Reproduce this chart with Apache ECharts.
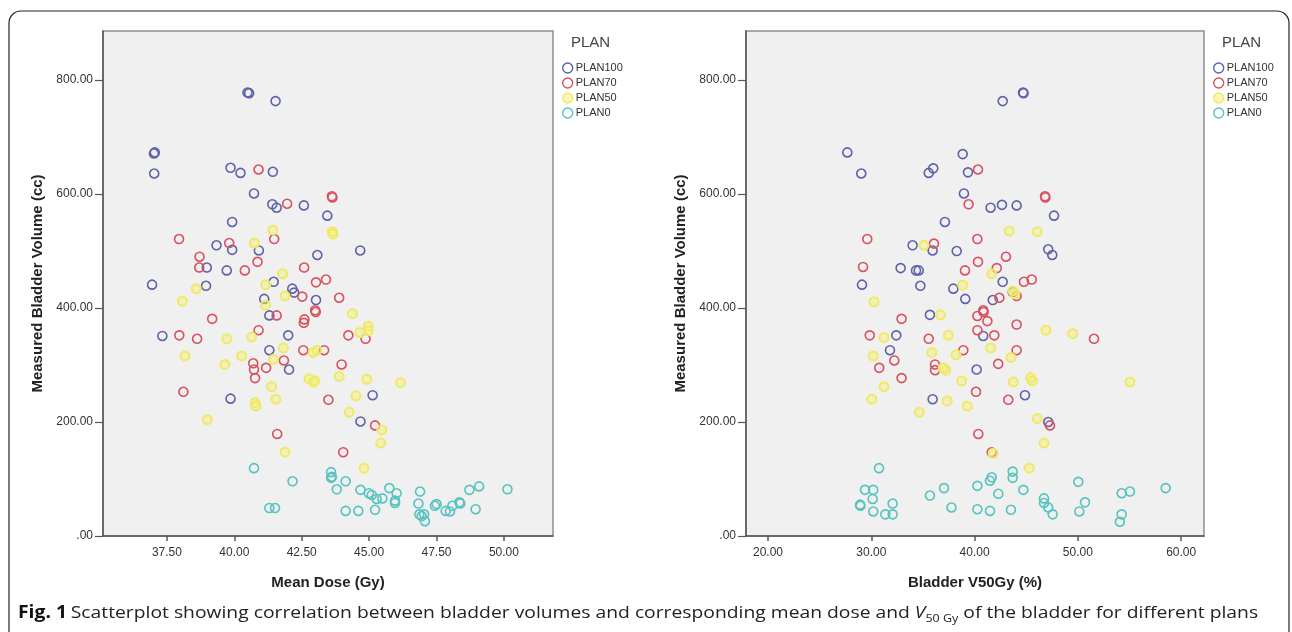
<!DOCTYPE html>
<html>
<head>
<meta charset="utf-8">
<script src="https://cdn.jsdelivr.net/npm/echarts@6/dist/echarts.min.js"></script>
<style>
html,body{margin:0;padding:0;background:#fff;}
#chart{width:1292px;height:632px;}
</style>
</head>
<body>
<div id="chart"></div>
<script>
// ---- Data ----
const planNames = ['PLAN100', 'PLAN70', 'PLAN50', 'PLAN0'];

const xTicksDose = [37.5, 40, 42.5, 45, 47.5, 50];
const xTicksV50 = [20, 30, 40, 50, 60];
const yTicks = [0, 200, 400, 600, 800];

// Left panel: [mean dose (Gy), measured bladder volume (cc)]
const dosePlan100 = [[40.49,778],[40.55,777],[41.53,763],[37.02,671],[37.05,673],[37.03,636],[39.86,646],[40.23,637],[41.43,639],[40.73,601],[41.41,582],[41.57,576],[42.58,580],[39.92,551],[39.34,510],[39.92,502],[40.91,501],[38.98,471],[39.72,466],[36.95,441],[38.95,439],[41.46,446],[43.08,493],[42.15,434],[42.22,427],[43.03,414],[41.11,416],[41.30,387],[43.45,562],[44.67,501],[37.33,351],[42.0,352],[41.30,326],[42.03,292],[39.86,241],[45.13,247],[44.68,201]];
const dosePlan70 = [[40.90,643],[41.96,583],[43.62,596],[43.64,594],[37.95,521],[41.48,521],[39.81,514],[38.71,490],[38.70,471],[40.39,466],[40.86,481],[42.59,471],[42.52,420],[43.03,445],[43.40,450],[43.89,418],[43.0,396],[43.02,393],[39.18,381],[41.57,387],[42.58,374],[42.60,380],[37.96,352],[38.62,346],[40.90,361],[42.56,326],[40.70,303],[40.73,292],[40.77,277],[41.18,295],[41.84,308],[38.11,253],[41.59,179],[44.23,352],[44.87,346],[43.33,326],[43.98,301],[43.49,239],[45.22,194],[44.04,147]];
const dosePlan50 = [[41.43,537],[40.74,514],[38.59,434],[38.07,412],[41.16,441],[41.79,460],[41.88,421],[41.16,405],[43.63,534],[43.66,530],[44.38,390],[44.97,368],[39.72,346],[40.64,349],[41.82,330],[38.17,316],[39.65,301],[40.27,316],[41.38,262],[41.54,240],[40.77,234],[40.80,228],[42.77,276],[42.93,270],[39.0,204],[41.88,147],[44.97,360],[44.66,357],[42.93,322],[43.07,326],[43.89,280],[44.91,275],[46.17,269],[44.51,246],[44.26,217],[45.47,186],[45.43,163],[44.81,119],[42.99,272],[41.45,310]];
const dosePlan0 = [[40.73,119],[42.16,96],[41.30,49],[41.51,49],[43.59,112],[43.59,102],[43.62,104],[44.13,96],[43.80,82],[44.68,81],[44.99,75],[45.10,72],[45.28,65],[45.49,66],[45.75,84],[46.02,75],[45.96,62],[45.96,58],[44.13,44],[44.60,44],[45.22,46],[46.89,78],[46.83,57],[46.86,38],[47.04,38],[47.07,26],[47.44,53],[47.50,56],[47.84,44],[48.00,43],[48.09,53],[48.35,59],[48.38,57],[48.72,81],[49.08,87],[48.95,47],[50.13,82],[46.95,35]];

// Right panel: [bladder V50Gy (%), measured bladder volume (cc)]
const v50Plan100 = [[44.69,778],[44.74,777],[42.72,763],[27.68,673],[38.85,670],[29.03,636],[35.56,637],[36.0,645],[39.36,638],[38.97,601],[41.55,576],[42.65,581],[44.07,580],[47.69,562],[37.13,551],[34.0,510],[35.94,501],[38.27,500],[47.13,503],[47.52,493],[32.84,470],[34.33,466],[34.59,466],[29.10,441],[34.75,439],[37.94,434],[42.72,446],[43.69,428],[39.10,416],[41.76,414],[35.68,388],[32.42,352],[40.84,351],[31.81,326],[40.20,292],[35.94,240],[44.88,247],[47.13,200]];
const v50Plan70 = [[40.33,643],[39.42,582],[46.82,596],[46.85,594],[29.61,521],[40.27,521],[36.07,513],[29.20,472],[40.33,481],[43.04,490],[39.07,466],[42.15,470],[44.78,446],[45.53,450],[44.07,421],[42.40,418],[40.84,396],[40.87,393],[32.93,381],[40.27,386],[41.24,377],[44.07,371],[29.85,352],[35.56,346],[40.27,361],[41.91,352],[38.91,326],[44.07,326],[42.29,302],[32.23,308],[30.77,295],[32.93,277],[36.17,301],[36.17,291],[40.14,253],[43.26,239],[47.30,194],[40.36,179],[41.66,147],[51.56,346]];
const v50Plan50 = [[43.35,535],[46.06,534],[35.10,510],[41.66,460],[38.85,440],[30.26,411],[36.70,388],[43.90,425],[31.23,348],[37.46,352],[30.19,316],[35.85,322],[37.20,291],[31.23,262],[30.04,240],[37.35,237],[34.65,217],[41.56,330],[43.52,313],[46.91,361],[49.50,355],[36.97,295],[38.75,272],[39.29,228],[43.75,270],[45.43,278],[46.07,206],[46.72,163],[41.80,145],[45.29,119],[55.04,270],[43.70,430],[45.60,272],[38.20,318]];
const v50Plan0 = [[30.75,119],[29.39,81],[30.19,81],[30.13,65],[28.91,55],[28.95,53],[30.19,43],[31.36,38],[32.07,38],[32.07,57],[35.68,71],[37.04,84],[41.66,103],[41.49,97],[43.69,113],[43.69,102],[40.27,88],[42.30,74],[44.72,81],[37.76,50],[40.27,47],[41.49,44],[43.52,46],[46.72,66],[46.72,58],[47.13,50],[47.56,38],[50.04,95],[50.69,59],[50.14,43],[54.24,75],[55.04,78],[54.24,38],[54.07,25],[58.50,84]];

const planColors = ['#5e62aa', '#d9515f', '#efe964', '#56c3c0'];

// ---- Chart ----
const chart = echarts.init(document.getElementById('chart'), null, {renderer: 'canvas'});

const yMax = 886;
const fmtY = v => (v === 0 ? '.00' : v.toFixed(2));
const fmtX = v => v.toFixed(2);
const axisColor = '#555';
const labelStyle = {fontFamily: 'Liberation Sans, Arial, sans-serif', fontSize: 12, color: '#333'};
const nameStyle = {fontFamily: 'Liberation Sans, Arial, sans-serif', fontSize: 15, fontWeight: 'bold', color: '#222'};

function xAxisDef(gi, min, max, ticks, name) {
  return {
    type: 'value', gridIndex: gi, min: min, max: max,
    name: name, nameLocation: 'middle', nameGap: 39, nameTextStyle: nameStyle,
    axisLine: {show: true, onZero: false, lineStyle: {color: axisColor, width: 1.5}},
    axisTick: {show: true, length: 5, customValues: ticks, lineStyle: {color: axisColor, width: 1.5}},
    axisLabel: {customValues: ticks, formatter: fmtX, margin: 11, ...labelStyle},
    splitLine: {show: false}
  };
}
function yAxisDef(gi) {
  return {
    type: 'value', gridIndex: gi, min: 0, max: yMax,
    name: 'Measured Bladder Volume (cc)', nameLocation: 'middle', nameGap: 58, nameRotate: 90,
    nameTextStyle: nameStyle,
    axisLine: {show: true, onZero: false, lineStyle: {color: axisColor, width: 1.5}},
    axisTick: {show: true, length: 8, customValues: yTicks, lineStyle: {color: axisColor, width: 1.2}},
    axisLabel: {customValues: yTicks, formatter: fmtY, margin: 10, ...labelStyle},
    splitLine: {show: false}
  };
}

function seriesDef(name, idx, gi, data) {
  const c = planColors[idx];
  const isYellow = idx === 2;
  return {
    type: 'scatter', name: name, xAxisIndex: gi, yAxisIndex: gi,
    data: data, symbol: 'circle', symbolSize: 9,
    itemStyle: {
      color: isYellow ? 'rgba(245,240,120,0.45)' : 'rgba(0,0,0,0)',
      borderColor: c, borderWidth: isYellow ? 2 : 1.6, opacity: 1
    },
    emphasis: {disabled: true},
    silent: true
  };
}

const legendCommon = {
  orient: 'vertical', itemWidth: 10, itemHeight: 10, itemGap: 3,
  icon: 'circle', selectedMode: false,
  textStyle: {fontFamily: 'Liberation Sans, Arial, sans-serif', fontSize: 11, color: '#333', lineHeight: 12, padding: [0,0,0,-2]},
  data: planNames.map((n, i) => ({
    name: n,
    itemStyle: {color: i === 2 ? 'rgba(245,240,120,0.55)' : 'rgba(0,0,0,0)', borderColor: planColors[i], borderWidth: 1.4}
  }))
};

const option = {
  backgroundColor: '#ffffff',
  animation: false,
  grid: [
    {left: 103, top: 31, width: 450, height: 505, show: true, backgroundColor: '#f0f0f0', borderColor: '#8e8e8e', borderWidth: 1.5},
    {left: 746, top: 31, width: 458, height: 505, show: true, backgroundColor: '#f0f0f0', borderColor: '#8e8e8e', borderWidth: 1.5}
  ],
  xAxis: [
    xAxisDef(0, 35.13, 51.82, xTicksDose, 'Mean Dose (Gy)'),
    xAxisDef(1, 17.87, 62.21, xTicksV50, 'Bladder V50Gy (%)')
  ],
  yAxis: [yAxisDef(0), yAxisDef(1)],
  legend: [
    Object.assign({left: 557, top: 57}, legendCommon),
    Object.assign({left: 1208, top: 57}, legendCommon)
  ],
  graphic: [
    {type: 'rect', shape: {x: 9, y: 11, width: 1280, height: 660, r: 12}, style: {fill: 'none', stroke: '#222', lineWidth: 1.2}, silent: true, z: 100},
    {type: 'text', left: 571, top: 35, style: {text: 'PLAN', fontFamily: 'Liberation Sans, Arial, sans-serif', fontSize: 15, fill: '#444'}},
    {type: 'text', left: 1222, top: 35, style: {text: 'PLAN', fontFamily: 'Liberation Sans, Arial, sans-serif', fontSize: 15, fill: '#444'}},
    {type: 'text', x: 18, y: 602, scaleX: 1.135, scaleY: 1, style: {
      text: '{b|Fig. 1} {n|Scatterplot showing correlation between bladder volumes and corresponding mean dose and }{i|V}{s|50 Gy}{n| of the bladder for different plans}',
      rich: {
        b: {fontFamily: 'Open Sans, Noto Sans, sans-serif', fontSize: 17, fontWeight: 'bold', fill: '#111', lineHeight: 22},
        n: {fontFamily: 'Open Sans, Noto Sans, sans-serif', fontSize: 17, fill: '#222', lineHeight: 22},
        i: {fontFamily: 'Open Sans, Noto Sans, sans-serif', fontSize: 17, fontStyle: 'italic', fill: '#222', lineHeight: 22},
        s: {fontFamily: 'Open Sans, Noto Sans, sans-serif', fontSize: 11, fill: '#222', lineHeight: 11, verticalAlign: 'bottom'}
      }
    }}
  ],
  series: [
    seriesDef('PLAN100', 0, 0, dosePlan100),
    seriesDef('PLAN70', 1, 0, dosePlan70),
    seriesDef('PLAN50', 2, 0, dosePlan50),
    seriesDef('PLAN0', 3, 0, dosePlan0),
    seriesDef('PLAN100', 0, 1, v50Plan100),
    seriesDef('PLAN70', 1, 1, v50Plan70),
    seriesDef('PLAN50', 2, 1, v50Plan50),
    seriesDef('PLAN0', 3, 1, v50Plan0)
  ]
};
chart.setOption(option);
</script>
</body>
</html>
